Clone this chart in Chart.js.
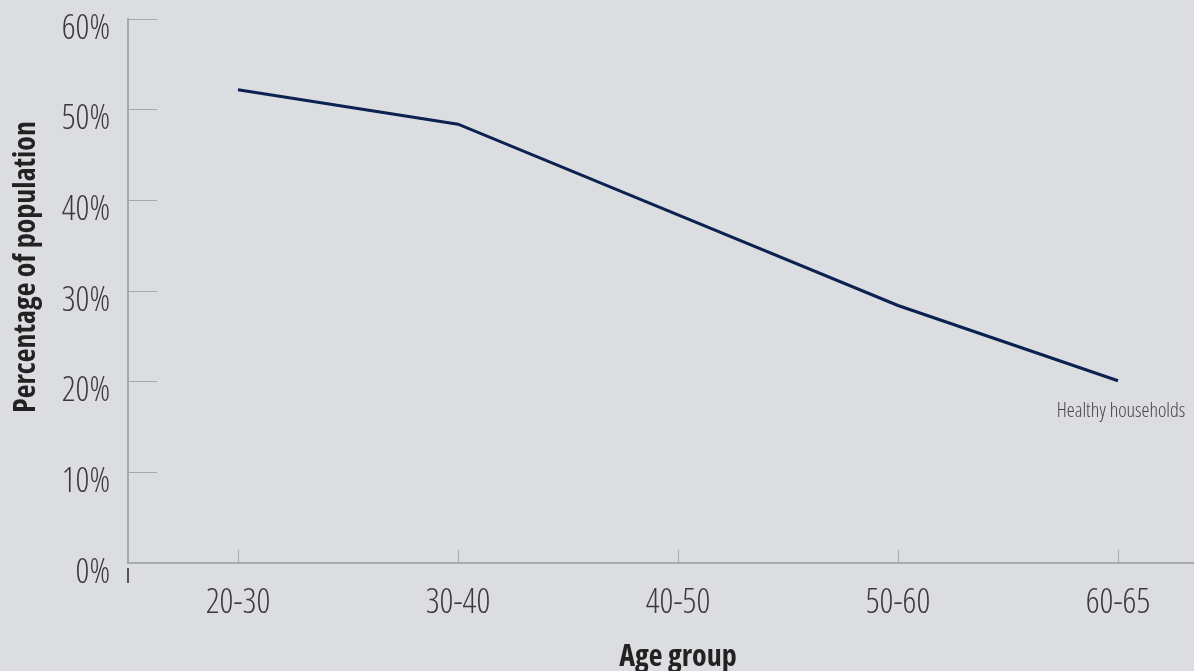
<!DOCTYPE html>
<html><head><meta charset="utf-8">
<script src="https://cdn.jsdelivr.net/npm/chart.js@4/dist/chart.umd.min.js"></script>
<style>
html,body{margin:0;padding:0;background:#dcdde0;overflow:hidden;width:1194px;height:671px}
canvas{display:block}
</style>
</head><body>
<canvas id="c" width="1228" height="671" style="width:1228px;height:671px"></canvas>
<script>
const categories = ['20-30', '30-40', '40-50', '50-60', '60-65'];
const healthyHouseholds = [52.2, 48.4, 38.4, 28.4, 20.1];
const seriesLabel = 'Healthy households';
const yMin = 0, yMax = 60, yStep = 10;
const xTitle = 'Age group';
const yTitle = 'Percentage of population';

const FAMILY = '"Open Sans", "Liberation Sans Narrow", sans-serif';
const LIGHT = '300 condensed';
const BOLD = '700 condensed';

const bgPlugin = {
  id: 'bg',
  beforeDraw(chart) {
    const ctx = chart.ctx;
    ctx.save();
    ctx.fillStyle = '#dcdde0';
    ctx.fillRect(0, 0, chart.width, chart.height);
    ctx.restore();
  }
};

const originMark = {
  id: 'originMark',
  afterDraw(chart) {
    const ca = chart.chartArea, ctx = chart.ctx;
    ctx.save();
    ctx.strokeStyle = '#555';
    ctx.lineWidth = 2;
    ctx.beginPath();
    ctx.moveTo(ca.left, ca.bottom + 5);
    ctx.lineTo(ca.left, ca.bottom + 20);
    ctx.stroke();
    ctx.restore();
  }
};

const yTitlePlugin = {
  id: 'yTitle',
  afterDraw(chart) {
    const ca = chart.chartArea, ctx = chart.ctx;
    ctx.save();
    ctx.translate(ca.left - 93, (ca.top + ca.bottom) / 2 - 24);
    ctx.rotate(-Math.PI / 2);
    ctx.font = BOLD + ' 30px ' + FAMILY;
    ctx.fillStyle = '#222';
    ctx.textAlign = 'center';
    ctx.textBaseline = 'alphabetic';
    ctx.fillText(yTitle, 0, 0);
    ctx.restore();
  }
};

const seriesLabelPlugin = {
  id: 'seriesLabel',
  afterDatasetsDraw(chart) {
    const meta = chart.getDatasetMeta(0);
    const pt = meta.data[meta.data.length - 1];
    const ctx = chart.ctx;
    ctx.save();
    ctx.font = LIGHT + ' 20px ' + FAMILY;
    ctx.fillStyle = '#444';
    ctx.textAlign = 'center';
    ctx.textBaseline = 'middle';
    ctx.fillText(seriesLabel, pt.x + 3, pt.y + 31);
    ctx.restore();
  }
};

new Chart(document.getElementById('c'), {
  type: 'line',
  data: {
    labels: categories,
    datasets: [{
      label: seriesLabel,
      data: healthyHouseholds,
      borderColor: '#0b2150',
      borderWidth: 3,
      pointRadius: 0,
      tension: 0,
      fill: false
    }]
  },
  plugins: [bgPlugin, seriesLabelPlugin, originMark, yTitlePlugin],
  options: {
    responsive: false,
    devicePixelRatio: 1,
    animation: false,
    layout: { padding: { top: 19, right: 0, bottom: 0, left: 0 } },
    plugins: { legend: { display: false }, tooltip: { enabled: false } },
    scales: {
      x: {
        type: 'category',
        offset: true,
        grid: { offset: false, drawOnChartArea: true, drawTicks: false, color: '#a8a9ab', lineWidth: 1 },
        border: { display: true, color: '#a8a9ab', width: 2, dash: [13, 2000], dashOffset: 1482 },
        ticks: { color: '#3a3a3a', padding: 20, font: { family: FAMILY, weight: LIGHT, size: 34 }, maxRotation: 0, autoSkip: false },
        title: { display: true, text: xTitle, color: '#222', font: { family: FAMILY, weight: BOLD, size: 30 }, padding: { top: 0, bottom: -4 } },
        afterFit(scale) { scale.height = 108; scale.paddingLeft = 0; scale.paddingRight = 0; }
      },
      y: {
        min: yMin, max: yMax,
        grid: { drawTicks: false, color: '#a8a9ab', lineWidth: 1 },
        border: { display: true, color: '#a8a9ab', width: 2, dash: [28, 3000], dashOffset: 0 },
        ticks: { stepSize: yStep, color: '#3a3a3a', padding: 18, labelOffset: 10, callback: v => v + '%', font: { family: FAMILY, weight: LIGHT, size: 34 } },
        title: { display: false },
        afterFit(scale) { scale.width = 128; scale.paddingTop = 0; scale.paddingBottom = 0; }
      }
    }
  }
});
</script>
</body></html>
